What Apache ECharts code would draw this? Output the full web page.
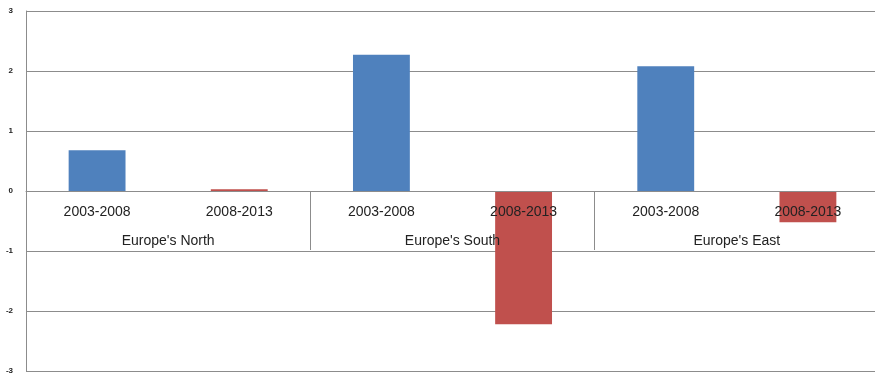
<!DOCTYPE html>
<html><head><meta charset="utf-8">
<script src="https://cdn.jsdelivr.net/npm/echarts@6/dist/echarts.min.js"></script>
<style>html,body{margin:0;padding:0;background:#fff}#c{width:875px;height:375px}</style>
</head><body><div id="c"></div>
<script>
var periods = ['2003-2008','2008-2013','2003-2008','2008-2013','2003-2008','2008-2013'];
var regions = ["Europe's North","Europe's South","Europe's East"];
var first = [0.68, '-', 2.27, '-', 2.08, '-'];
var second = ['-', 0.03, '-', -2.22, '-', -0.52];
var yTicks = [-3, 3, 1];

var gridTop = 11, gridBottom = 4, H = 375;
var zeroOffset = -((H - gridTop - gridBottom) * (0 - yTicks[0]) / (yTicks[1] - yTicks[0]));

var chart = echarts.init(document.getElementById('c'));
chart.setOption({
  animation: false,
  grid: {left: 26, right: -4, top: gridTop, bottom: gridBottom, containLabel: false, outerBoundsMode: 'none'},
  xAxis: [
    {type: 'category', data: periods, z: 5, offset: zeroOffset,
     axisLine: {onZero: false, lineStyle: {color: '#8c8c8c', width: 1}},
     axisTick: {show: false},
     axisLabel: {interval: 0, margin: 14, fontSize: 14, color: '#222', fontFamily: 'Liberation Sans'}},
    {type: 'category', data: regions, z: 5, position: 'bottom', offset: zeroOffset,
     axisLine: {onZero: false, show: false},
     axisTick: {show: true, interval: 0, length: 59, lineStyle: {color: '#8c8c8c', width: 1}},
     axisLabel: {interval: 0, margin: 43, fontSize: 14, color: '#222', fontFamily: 'Liberation Sans'}}
  ],
  yAxis: {type: 'value', min: yTicks[0], max: yTicks[1], interval: yTicks[2],
    axisLine: {show: true, lineStyle: {color: '#8c8c8c'}},
    axisTick: {show: false},
    splitLine: {lineStyle: {color: '#8c8c8c', width: 1}},
    axisLabel: {margin: 13, fontSize: 8, fontWeight: 'bold', color: '#222', fontFamily: 'Liberation Sans'}},
  series: [
    {type: 'bar', data: first, barWidth: '40%', barGap: '-100%', xAxisIndex: 0, itemStyle: {color: '#4f81bd'}},
    {type: 'bar', data: second, barWidth: '40%', barGap: '-100%', xAxisIndex: 0, itemStyle: {color: '#c0504d'}}
  ]
});
</script></body></html>
